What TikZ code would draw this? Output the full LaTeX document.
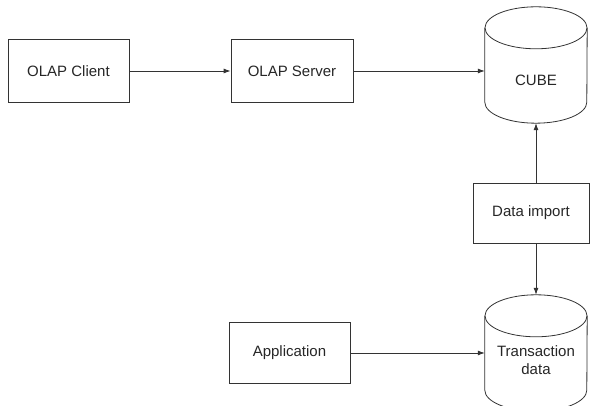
\documentclass[tikz,border=0pt]{standalone}
\usepackage{fontspec}
\setmainfont{Liberation Sans}
\usetikzlibrary{arrows.meta}

\tikzset{
  line/.style={draw=black!80, line width=0.8pt},
  box/.style={line, rectangle, inner sep=0pt, font=\fontsize{15}{18}\selectfont, text=black!85},
  arrow/.style={line, -{Latex[length=7pt,width=5pt]}},
  cylframe/.style={rectangle, draw=none, inner sep=0pt, minimum width=102pt, minimum height=116pt},
  lbl/.style={font=\fontsize{15}{18}\selectfont, text=black!85, align=center, inner sep=0pt},
}

% database cylinder drawn on the frame of a named node
\newcommand{\dbcylinder}[1]{%
  \draw[line] ([yshift=-21pt]#1.north) ellipse [x radius=51pt, y radius=21pt];
  \draw[line] ([yshift=-21pt]#1.north west) -- ([yshift=21pt]#1.south west)
    arc[start angle=180, end angle=360, x radius=51pt, y radius=21pt]
    -- ([yshift=-21pt]#1.north east);
}

\begin{document}
\begin{tikzpicture}[x=1pt, y=1pt]
  \useasboundingbox (0,0) rectangle (590,406);
  \clip (0,0) rectangle (590,406);

  % boxes
  \node[box, draw, minimum width=121pt, minimum height=63pt] (client) at (68.5,335) {OLAP Client};
  \node[box, draw, minimum width=122pt, minimum height=63pt] (server) at (292,335) {OLAP Server};
  \node[box, draw, minimum width=116pt, minimum height=60pt] (import) at (531,193) {Data import};
  \node[box, draw, minimum width=121pt, minimum height=61pt] (app) at (289.5,53) {Application};

  % databases
  \node[cylframe] (cube) at (536,341) {};
  \dbcylinder{cube}
  \node[lbl] (cubetext) at (536,326) {CUBE};

  \node[cylframe] (trans) at (536,53) {};
  \dbcylinder{trans}
  \node[lbl] (transtext) at (536,46) {Transaction\\data};

  % connectors
  \draw[arrow] (client) -- (server);
  \draw[arrow] (server.east) -- (server.east -| cube.west);
  \draw[arrow] (import.north -| cube.south) -- (cube.south);
  \draw[arrow] (import.south -| trans.north) -- (trans.north);
  \draw[arrow] (app.east) -- (app.east -| trans.west);
\end{tikzpicture}
\end{document}
